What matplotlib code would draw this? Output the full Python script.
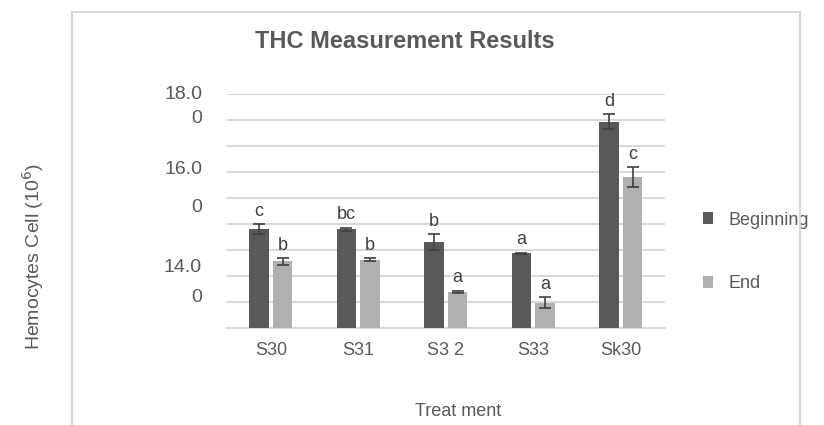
import numpy as np
import matplotlib.pyplot as plt
from matplotlib.patches import Rectangle

treatments = ["S30", "S31", "S3 2", "S33", "Sk30"]
beginning = [15.40, 15.40, 15.16, 14.94, 17.47]
beginning_err = [0.10, 0.03, 0.15, 0.01, 0.15]
end = [14.78, 14.81, 14.20, 13.99, 16.40]
end_err = [0.06, 0.03, 0.02, 0.11, 0.19]
beginning_letters = ["c", "bc", "b", "a", "d"]
end_letters = ["b", "b", "a", "a", "c"]

# excel-style wrapped tick labels ("18.00" split over two lines)
ytick_text = ["18.0", "0", "16.0", "0", "14.0", "0"]
ytick_pos = [17.98, 17.52, 16.54, 15.81, 14.67, 14.08]

dark = "#595959"
light = "#b0b0b0"
txt = "#595959"
plt.rcParams['font.family'] = ['Liberation Sans', 'DejaVu Sans']

fig = plt.figure(figsize=(8.24, 4.25), dpi=100)
ax = fig.add_axes([0.2755, 0.228, 0.531, 0.551])

# chart border
fig.patches.append(Rectangle((72 / 824, -0.1), (800 - 72) / 824, 1.1 - 12 / 425,
                             transform=fig.transFigure, fill=False,
                             edgecolor="#d9d9d9", linewidth=1.5))

x = np.arange(len(treatments))
w = 0.22
off = 0.135
ax.bar(x - off, beginning, w, color=dark, label="Beginning", zorder=3)
ax.bar(x + off, end, w, color=light, label="End", zorder=3)
ax.errorbar(x - off, beginning, yerr=beginning_err, fmt="none", ecolor="#404040",
            elinewidth=1.2, capsize=4, capthick=1.2, zorder=4)
ax.errorbar(x + off, end, yerr=end_err, fmt="none", ecolor="#404040",
            elinewidth=1.2, capsize=4, capthick=1.2, zorder=4)

for i in range(len(treatments)):
    ax.annotate(beginning_letters[i], (x[i] - off, beginning[i] + beginning_err[i]),
                xytext=(0, 3), textcoords="offset points", ha="center", va="bottom",
                fontsize=13, color="#404040")
    ax.annotate(end_letters[i], (x[i] + off, end[i] + end_err[i]),
                xytext=(0, 3), textcoords="offset points", ha="center", va="bottom",
                fontsize=13, color="#404040")

ax.set_xlim(-0.5, len(treatments) - 0.5)
ax.set_ylim(13.5, 18.0)
ax.set_yticks(np.arange(13.5, 18.01, 0.5))
ax.set_yticklabels([])
ax.tick_params(axis="y", length=0)
ax.grid(axis="y", color="#d9d9d9", linewidth=1.5, zorder=0)
for s in ["top", "right", "left"]:
    ax.spines[s].set_visible(False)
ax.spines["bottom"].set_color("#d9d9d9")
ax.spines["bottom"].set_linewidth(1.5)
ax.set_xticks(x)
ax.set_xticklabels(treatments, fontsize=13, color=txt)
ax.tick_params(axis="x", length=0, pad=10)

for t, p in zip(ytick_text, ytick_pos):
    ax.text(-0.057, p, t, transform=ax.get_yaxis_transform(), ha="right", va="center",
            fontsize=14, color=txt)

fig.text(405 / 824, 1 - 42 / 425, "THC Measurement Results", ha="center", va="center",
         fontsize=17, fontweight="bold", color=txt)
fig.text(458 / 824, 1 - 412 / 425, "Treat ment", ha="center", va="center",
         fontsize=13, color=txt)
fig.text(33 / 824, 1 - 257 / 425, "Hemocytes Cell (10$^6$)", ha="center", va="center",
         rotation=90, fontsize=14, color=txt)

ax.legend(loc="center left", bbox_to_anchor=(1.087, 0.325), frameon=False,
          borderaxespad=0, borderpad=0,
          labelspacing=2.6, handlelength=0.6, handleheight=0.6, handletextpad=0.85,
          fontsize=13, labelcolor=txt)

fig.savefig("out.png", dpi=100)
